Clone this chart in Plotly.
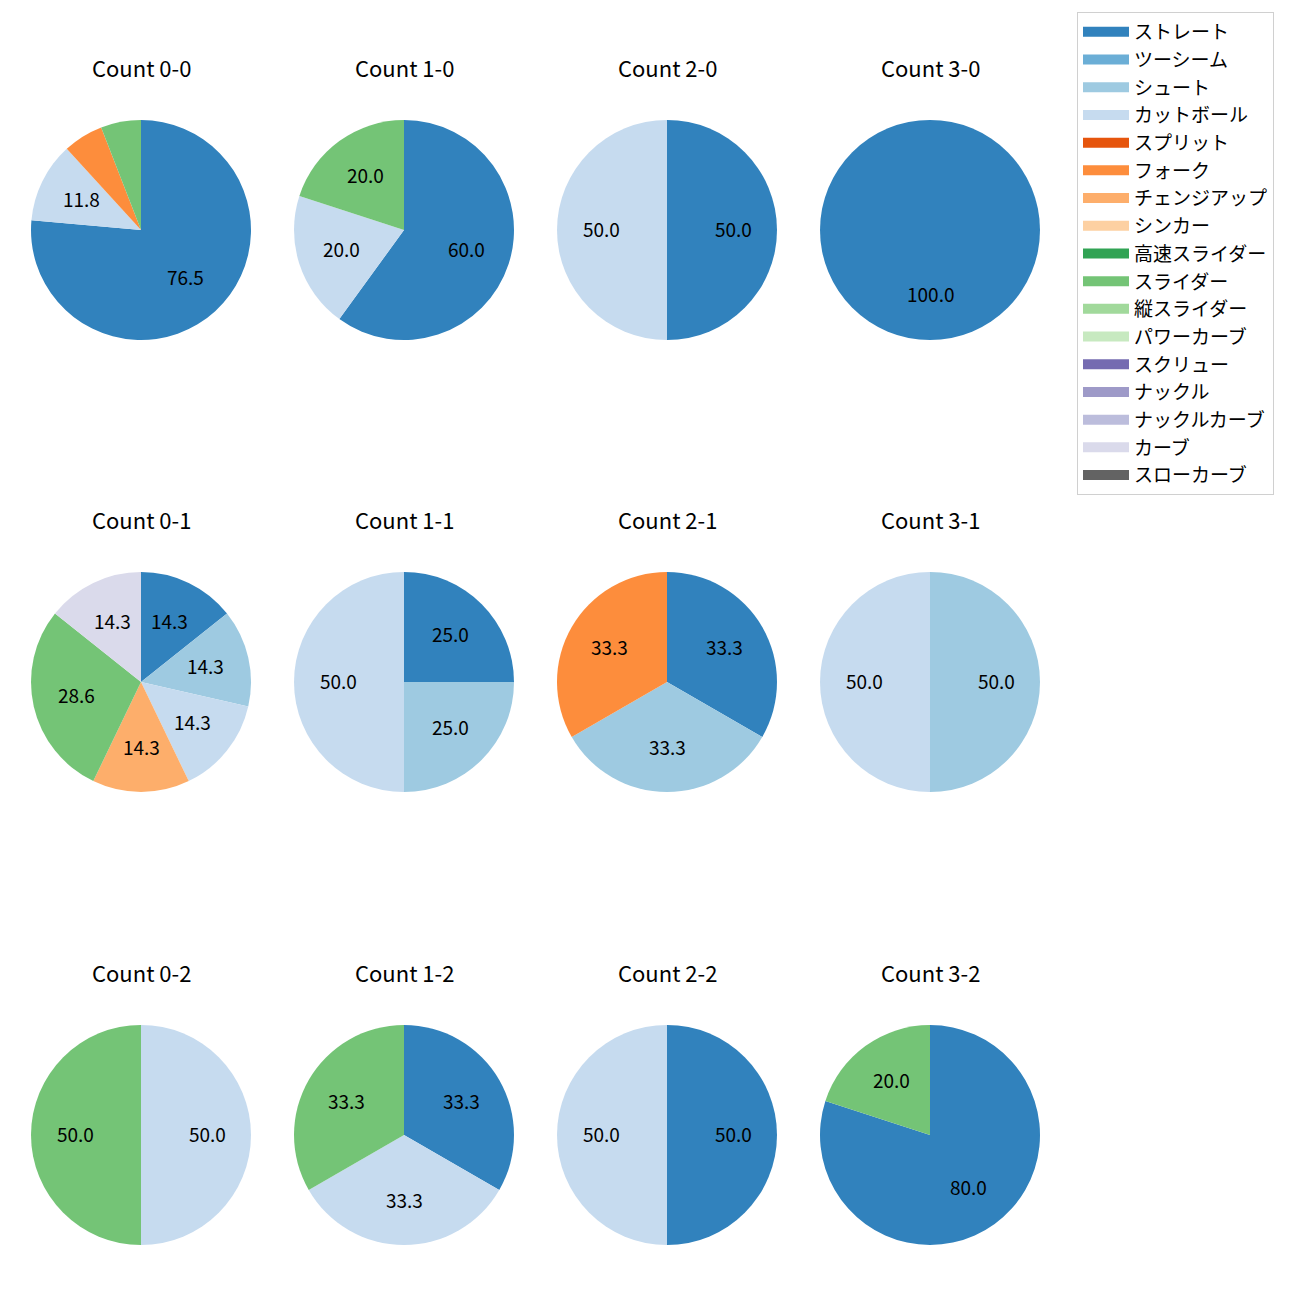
import math
import plotly.graph_objects as go

# ---- data -------------------------------------------------------------
pitch_types = ["ストレート", "ツーシーム", "シュート", "カットボール", "スプリット", "フォーク",
               "チェンジアップ", "シンカー", "高速スライダー", "スライダー", "縦スライダー",
               "パワーカーブ", "スクリュー", "ナックル", "ナックルカーブ", "カーブ", "スローカーブ"]
pitch_colors = ["#3182bd", "#6baed6", "#9ecae1", "#c6dbef", "#e6550d", "#fd8d3c",
                "#fdae6b", "#fdd0a2", "#31a354", "#74c476", "#a1d99b",
                "#c7e9c0", "#756bb1", "#9e9ac8", "#bcbddc", "#dadaeb", "#636363"]

count_titles = ["Count 0-0", "Count 1-0", "Count 2-0", "Count 3-0",
                "Count 0-1", "Count 1-1", "Count 2-1", "Count 3-1",
                "Count 0-2", "Count 1-2", "Count 2-2", "Count 3-2"]

labels_00 = ["ストレート", "カットボール", "フォーク", "スライダー"]
values_00 = [76.5, 11.8, 5.9, 5.9]
labels_10 = ["ストレート", "カットボール", "スライダー"]
values_10 = [60.0, 20.0, 20.0]
labels_20 = ["ストレート", "カットボール"]
values_20 = [50.0, 50.0]
labels_30 = ["ストレート"]
values_30 = [100.0]
labels_01 = ["ストレート", "シュート", "カットボール", "チェンジアップ", "スライダー", "カーブ"]
values_01 = [14.3, 14.3, 14.3, 14.3, 28.6, 14.3]
labels_11 = ["ストレート", "シュート", "カットボール"]
values_11 = [25.0, 25.0, 50.0]
labels_21 = ["ストレート", "シュート", "フォーク"]
values_21 = [33.3, 33.3, 33.3]
labels_31 = ["シュート", "カットボール"]
values_31 = [50.0, 50.0]
labels_02 = ["カットボール", "スライダー"]
values_02 = [50.0, 50.0]
labels_12 = ["ストレート", "カットボール", "スライダー"]
values_12 = [33.3, 33.3, 33.3]
labels_22 = ["ストレート", "カットボール"]
values_22 = [50.0, 50.0]
labels_32 = ["ストレート", "スライダー"]
values_32 = [80.0, 20.0]

all_labels = [labels_00, labels_10, labels_20, labels_30,
              labels_01, labels_11, labels_21, labels_31,
              labels_02, labels_12, labels_22, labels_32]
all_values = [values_00, values_10, values_20, values_30,
              values_01, values_11, values_21, values_31,
              values_02, values_12, values_22, values_32]

# ---- layout geometry ---------------------------------------------------
W = H = 1300
OFF = 8  # page body margin
col_cx = [141 - OFF, 404 - OFF, 667 - OFF, 930 - OFF]
row_cy = [230 - OFF, 682 - OFF, 1135 - OFF]
TITLE_DY = 163
TEXT_LIFT = 2
R = 110
FONT = "Noto Sans CJK JP"
color_of = dict(zip(pitch_types, pitch_colors))

fig = go.Figure()
annotations = []

for i, (title, labs, vals) in enumerate(zip(count_titles, all_labels, all_values)):
    r, c = divmod(i, 4)
    cx, cy = col_cx[c], row_cy[r]
    dom_x = [(cx - R) / W, (cx + R) / W]
    dom_y = [1 - (cy + R) / H, 1 - (cy - R) / H]
    fig.add_trace(go.Pie(
        labels=labs, values=vals, sort=False, direction="clockwise", rotation=0,
        marker=dict(colors=[color_of[l] for l in labs], line=dict(width=0)),
        textinfo="none", showlegend=False, hoverinfo="label+percent",
        domain=dict(x=dom_x, y=dom_y),
    ))
    annotations.append(dict(
        x=cx / W, y=1 - (cy - TITLE_DY) / H,
        xref="paper", yref="paper", text=title, showarrow=False,
        xanchor="center", yanchor="middle",
        font=dict(family=FONT, size=22, color="#000000")))
    total = sum(vals)
    cum = 0.0
    for v in vals:
        frac = v / total
        mid = math.radians(90 - (cum + frac / 2) * 360)
        cum += frac
        if v * 100 / total < 10:
            continue
        px = cx + 0.6 * R * math.cos(mid)
        py = cy - 0.6 * R * math.sin(mid) - TEXT_LIFT
        annotations.append(dict(
            x=px / W, y=1 - py / H, xref="paper", yref="paper",
            text=f"{v:.1f}", showarrow=False, xanchor="center", yanchor="middle",
            font=dict(family=FONT, size=19, color="#000000")))

# legend entries
for i, (name, col) in enumerate(zip(pitch_types, pitch_colors)):
    fig.add_trace(go.Scatter(
        x=[None], y=[None], mode="lines", name=name,
        line=dict(color=col, width=14), legendgroup=f"g{i}", showlegend=True,
        hoverinfo="skip"))

fig.update_layout(
    width=W, height=H,
    margin=dict(l=0, r=0, t=0, b=0),
    paper_bgcolor="white", plot_bgcolor="white",
    xaxis=dict(visible=False), yaxis=dict(visible=False),
    annotations=annotations,
    legend=dict(x=(1077 - OFF) / W, y=1 - (12 - OFF) / H, xanchor="left", yanchor="top",
                bgcolor="white", bordercolor="#d0d0d0", borderwidth=1,
                font=dict(family=FONT, size=19, color="#000000"),
                tracegroupgap=0, itemwidth=46),
    showlegend=True,
)

fig.write_html("out.html")
